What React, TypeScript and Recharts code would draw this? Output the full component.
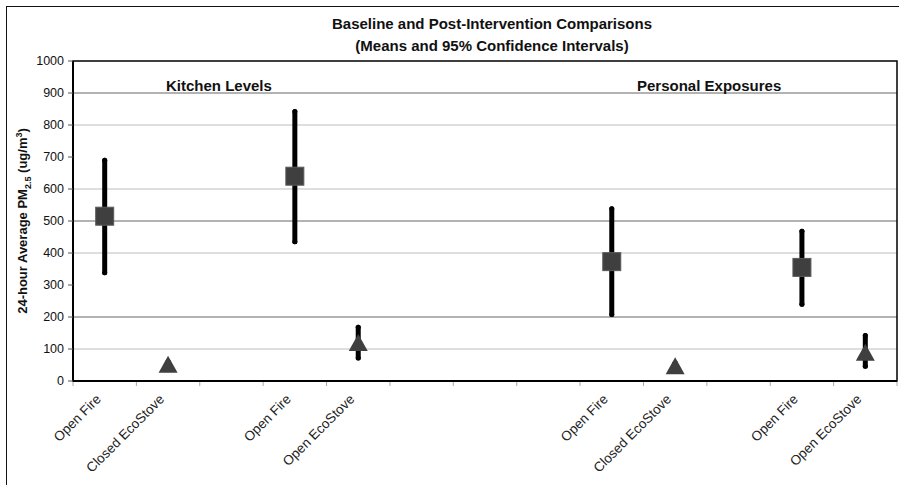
import React from 'react';
import {
  ScatterChart,
  Scatter,
  XAxis,
  YAxis,
  ZAxis,
  CartesianGrid,
  ErrorBar,
  ReferenceArea,
} from 'recharts';

// slot labels along the x axis ('' = empty slot)
const categories = [
  'Open Fire',
  'Closed EcoStove',
  '',
  'Open Fire',
  'Open EcoStove',
  '',
  '',
  '',
  'Open Fire',
  'Closed EcoStove',
  '',
  'Open Fire',
  'Open EcoStove',
];

// open fire means (squares)
const fireSlots = [0, 3, 8, 11];
const fireMeans = [515, 640, 373, 355];
const fireLow = [338, 435, 208, 240];
const fireHigh = [690, 842, 538, 468];

// stove means (triangles)
const stoveSlots = [1, 4, 9, 12];
const stoveMeans = [52, 120, 48, 90];
const stoveLow = [44, 72, 40, 46];
const stoveHigh = [60, 168, 56, 142];

const yTicks = [0, 100, 200, 300, 400, 500, 600, 700, 800, 900, 1000];
const darkGrid = [200, 500, 900];
const lightGrid = [100, 400, 600, 800];

const FONT = '"Liberation Sans", Arial, sans-serif';

const toPoints = (slots: number[], means: number[], low: number[], high: number[]) =>
  slots.map((s, i) => ({
    x: s + 0.5,
    y: means[i],
    err: [means[i] - low[i], high[i] - means[i]],
  }));

const fireData = toPoints(fireSlots, fireMeans, fireLow, fireHigh);
const stoveData = toPoints(stoveSlots, stoveMeans, stoveLow, stoveHigh);

const xTicks: number[] = [];
for (let i = 0; i <= categories.length * 2; i++) xTicks.push(i / 2);

function XTick(props: any) {
  const { x, y, payload } = props;
  const v = payload.value as number;
  if (Number.isInteger(v)) {
    return <line x1={x} x2={x} y1={y + 1} y2={y + 5} stroke="#aaa" strokeWidth={1} />;
  }
  const label = categories[Math.floor(v)];
  if (!label) return <g />;
  const tx = x - 3;
  const ty = y + 19;
  return (
    <text
      x={tx}
      y={ty}
      textAnchor="end"
      transform={`rotate(-45, ${tx}, ${ty})`}
      fontSize={13.5}
      fontFamily={FONT}
      fill="#222"
    >
      {label}
    </text>
  );
}

function Square(props: any) {
  const { cx, cy } = props;
  return <rect x={cx - 9} y={cy - 9} width={18} height={18} fill="#3f3f3f" stroke="#5a5a5a" strokeWidth={1} />;
}

function Triangle(props: any) {
  const { cx, cy } = props;
  return (
    <polygon
      points={`${cx},${cy - 8.5} ${cx + 9.5},${cy + 8.5} ${cx - 9.5},${cy + 8.5}`}
      fill="#3f3f3f"
    />
  );
}

export default function App() {
  return (
    <div
      style={{
        position: 'absolute',
        left: 0,
        top: 0,
        width: 899,
        height: 485,
        overflow: 'hidden',
        background: '#fff',
        fontFamily: FONT,
      }}
    >
      <div
        style={{
          position: 'absolute',
          left: 6,
          top: 6,
          width: 899,
          height: 485,
          border: '1.5px solid #111',
        }}
      />
      <div
        style={{
          position: 'absolute',
          left: 292,
          width: 400,
          top: 13,
          textAlign: 'center',
          fontWeight: 'bold',
          fontSize: 15,
          lineHeight: '22px',
          color: '#111',
        }}
      >
        Baseline and Post-Intervention Comparisons
        <br />
        (Means and 95% Confidence Intervals)
      </div>
      <div
        style={{
          position: 'absolute',
          left: 19 - 140,
          top: 221 - 9,
          width: 280,
          height: 18,
          lineHeight: '18px',
          textAlign: 'center',
          transform: 'rotate(-90deg)',
          fontWeight: 'bold',
          fontSize: 13,
          color: '#111',
          whiteSpace: 'nowrap',
        }}
      >
        24-hour Average PM<sub style={{ fontSize: 9 }}>2.5</sub> (ug/m<sup style={{ fontSize: 9 }}>3</sup>)
      </div>
      <ScatterChart
        width={899}
        height={485}
        margin={{ top: 61, right: 2, bottom: 0, left: 13 }}
        style={{ position: 'absolute', left: 0, top: 0 }}
      >
        <CartesianGrid vertical={false} horizontalValues={lightGrid} stroke="#bdbdbd" strokeWidth={1} />
        <CartesianGrid vertical={false} horizontalValues={darkGrid} stroke="#666" strokeWidth={1} />
        <XAxis
          type="number"
          dataKey="x"
          domain={[0, categories.length]}
          ticks={xTicks}
          interval={0}
          tick={<XTick />}
          tickLine={false}
          tickSize={0}
          tickMargin={0}
          axisLine={{ stroke: '#000', strokeWidth: 2 }}
          height={104}
        />
        <YAxis
          type="number"
          dataKey="y"
          domain={[0, 1000]}
          ticks={yTicks}
          interval={0}
          width={60}
          tickSize={5}
          tickMargin={4}
          tickLine={{ stroke: '#555' }}
          axisLine={{ stroke: '#000', strokeWidth: 2 }}
          tick={{ fontSize: 12.5, fill: '#111', fontFamily: FONT }}
        />
        <ZAxis range={[300, 300]} />
        <ReferenceArea x1={0} x2={categories.length} y1={0} y2={1000} fill="none" stroke="#000" strokeWidth={1.5} />
        <Scatter data={fireData} shape={<Square />} isAnimationActive={false}>
          <ErrorBar
            dataKey="err"
            direction="y"
            width={0}
            stroke="#000"
            strokeWidth={5}
            strokeLinecap="round"
            isAnimationActive={false}
          />
        </Scatter>
        <Scatter data={stoveData} shape={<Triangle />} isAnimationActive={false}>
          <ErrorBar
            dataKey="err"
            direction="y"
            width={0}
            stroke="#000"
            strokeWidth={5}
            strokeLinecap="round"
            isAnimationActive={false}
          />
        </Scatter>
      </ScatterChart>
      <div
        style={{
          position: 'absolute',
          left: 166,
          top: 77,
          fontWeight: 'bold',
          fontSize: 15,
          lineHeight: '18px',
          color: '#111',
        }}
      >
        Kitchen Levels
      </div>
      <div
        style={{
          position: 'absolute',
          left: 637,
          top: 77,
          fontWeight: 'bold',
          fontSize: 15,
          lineHeight: '18px',
          color: '#111',
        }}
      >
        Personal Exposures
      </div>
    </div>
  );
}
